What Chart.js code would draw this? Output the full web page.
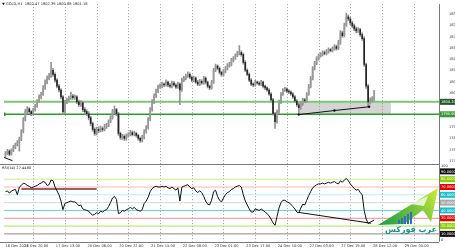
<!DOCTYPE html>
<html><head><meta charset="utf-8">
<script src="https://cdn.jsdelivr.net/npm/chart.js@4.4.1/dist/chart.umd.min.js"></script>
<style>html,body{margin:0;padding:0;background:#fff;overflow:hidden}canvas{display:block}</style>
</head><body>
<canvas id="c" width="455" height="250"></canvas>
<script>
// ---------- DATA ----------
const openP=[1781.8,1782.5,1783.2,1782.1,1783.5,1784.5,1785.5,1786.2,1787.3,1790.0,
1794.1,1796.8,1797.8,1796.8,1796.1,1797.5,1798.8,1800.5,1801.9,1802.9,
1805.0,1807.0,1808.4,1809.1,1811.1,1809.7,1807.7,1805.6,1804.3,1801.9,
1796.8,1800.2,1800.9,1801.6,1802.2,1801.6,1801.9,1800.2,1799.2,1799.9,
1797.5,1796.8,1796.1,1794.7,1792.7,1790.7,1789.3,1790.7,1790.3,1791.0,
1790.7,1791.7,1792.0,1793.4,1794.7,1796.8,1797.5,1796.1,1789.3,1787.9,
1788.3,1787.6,1788.6,1789.0,1789.6,1789.0,1789.3,1788.6,1787.6,1786.9,
1787.9,1790.0,1791.3,1794.1,1797.5,1800.2,1802.2,1803.9,1805.3,1805.6,
1806.3,1806.0,1807.0,1806.0,1805.6,1806.7,1806.0,1805.3,1806.3,1804.3,
1807.7,1808.4,1809.1,1809.7,1808.7,1807.7,1808.4,1807.0,1806.3,1807.3,
1806.7,1808.4,1807.0,1805.6,1805.0,1807.0,1811.1,1812.5,1811.8,1810.4,
1809.7,1810.8,1811.8,1812.8,1813.1,1814.5,1815.2,1816.2,1816.9,1817.2,
1816.5,1813.8,1811.1,1809.7,1807.7,1806.3,1806.0,1807.0,1806.7,1806.3,
1807.0,1805.6,1805.0,1804.3,1802.9,1800.9,1796.1,1793.4,1796.8,1800.2,
1802.9,1804.3,1804.6,1803.9,1803.6,1802.9,1801.9,1800.5,1799.2,1798.2,
1799.5,1800.9,1800.5,1802.9,1805.6,1808.4,1811.8,1813.5,1815.2,1816.2,
1816.5,1817.2,1816.9,1817.6,1818.2,1817.9,1818.6,1819.3,1818.6,1820.6,
1824.0,1823.0,1826.8,1829.5,1828.8,1827.4,1826.4,1825.4,1824.7,1825.1,
1823.4,1822.0,1813.1,1805.6,1800.2,1800.9,1801.2];
const highP=[1783.0,1783.8,1783.6,1784.0,1785.2,1786.0,1786.8,1788.0,1790.6,1794.8,
1797.6,1798.6,1798.2,1797.2,1798.0,1799.4,1801.0,1802.6,1803.5,1805.8,
1807.8,1809.2,1810.0,1813.8,1811.8,1810.2,1808.2,1806.2,1804.8,1802.4,
1800.8,1801.5,1802.2,1803.6,1802.8,1802.6,1802.4,1800.8,1800.6,1800.4,
1798.2,1797.4,1796.8,1795.2,1793.2,1791.2,1791.4,1791.6,1791.8,1791.6,
1792.4,1792.8,1794.0,1795.4,1797.6,1798.8,1798.0,1796.6,1789.8,1789.0,
1788.8,1789.2,1789.6,1790.4,1790.2,1790.0,1789.8,1789.0,1788.0,1788.6,
1790.6,1792.0,1794.8,1798.2,1801.0,1803.0,1804.6,1806.0,1806.4,1807.0,
1806.8,1807.8,1807.4,1806.6,1807.4,1807.2,1806.4,1807.0,1806.8,1808.4,
1809.0,1809.8,1810.6,1810.2,1809.2,1809.0,1808.8,1807.6,1808.0,1807.8,
1809.0,1808.8,1807.4,1806.0,1807.6,1811.8,1813.2,1813.0,1812.2,1810.8,
1811.4,1812.4,1813.4,1813.8,1815.2,1815.8,1816.8,1817.6,1819.6,1817.8,
1817.0,1814.4,1811.6,1810.2,1808.2,1806.8,1807.6,1807.4,1807.2,1807.6,
1807.4,1806.0,1805.4,1804.8,1803.4,1801.4,1796.6,1797.4,1800.8,1803.4,
1804.8,1805.2,1805.0,1804.4,1804.0,1803.4,1802.4,1801.0,1799.8,1800.0,
1801.4,1801.4,1803.4,1806.2,1809.0,1812.4,1814.2,1815.8,1816.8,1817.2,
1817.8,1817.8,1818.2,1818.8,1818.6,1819.2,1820.0,1819.8,1821.4,1824.8,
1824.6,1827.4,1830.8,1830.2,1829.4,1828.0,1827.0,1826.0,1825.8,1825.6,
1824.0,1822.6,1813.6,1806.2,1801.6,1802.0,1804.2];
const lowP=[1781.0,1782.0,1781.6,1781.8,1783.0,1784.0,1785.0,1783.2,1786.8,1789.5,
1793.6,1796.0,1796.2,1795.4,1795.6,1797.0,1798.3,1800.0,1801.2,1802.4,
1804.5,1806.4,1807.8,1808.6,1809.0,1807.0,1805.0,1803.6,1801.2,1795.8,
1796.2,1799.6,1800.4,1801.0,1801.0,1801.0,1799.6,1798.6,1798.6,1796.8,
1796.0,1795.4,1794.0,1792.0,1790.0,1788.6,1788.8,1789.6,1789.8,1790.0,
1790.2,1791.0,1791.6,1793.0,1794.2,1796.2,1795.4,1788.6,1787.2,1787.2,
1786.8,1787.0,1788.0,1788.4,1788.4,1788.4,1788.0,1787.0,1786.2,1786.4,
1787.4,1789.4,1790.8,1793.6,1797.0,1799.6,1801.6,1803.4,1804.8,1805.0,
1805.4,1805.6,1805.4,1805.0,1805.0,1805.6,1804.8,1804.8,1799.2,1803.8,
1807.2,1807.8,1808.6,1808.2,1807.2,1807.2,1806.6,1805.8,1805.8,1806.2,
1806.2,1806.4,1805.0,1804.4,1804.6,1806.6,1810.6,1811.2,1809.8,1809.0,
1809.2,1810.2,1811.2,1812.2,1812.6,1814.0,1814.8,1815.8,1816.4,1816.0,
1813.2,1810.6,1809.2,1807.2,1805.8,1805.4,1805.6,1806.2,1805.8,1805.8,
1805.0,1804.4,1803.8,1802.4,1800.4,1795.6,1791.0,1792.8,1796.2,1799.6,
1802.4,1803.8,1803.4,1803.0,1802.4,1801.4,1800.0,1798.6,1795.8,1797.6,
1799.0,1800.0,1800.0,1802.4,1805.0,1807.8,1811.2,1813.0,1814.6,1815.6,
1816.0,1816.4,1816.4,1817.0,1817.4,1817.4,1818.0,1818.0,1818.2,1820.0,
1822.4,1822.6,1826.2,1828.2,1826.8,1825.8,1824.8,1824.0,1824.2,1822.8,
1821.4,1812.4,1804.8,1798.4,1799.4,1800.2,1800.6];
const closeP=[1782.5,1783.2,1782.1,1783.5,1784.5,1785.5,1786.2,1787.3,1790.0,1794.1,
1796.8,1797.8,1796.8,1796.1,1797.5,1798.8,1800.5,1801.9,1802.9,1805.0,
1807.0,1808.4,1809.1,1811.1,1809.7,1807.7,1805.6,1804.3,1801.9,1796.8,
1800.2,1800.9,1801.6,1802.2,1801.6,1801.9,1800.2,1799.2,1799.9,1797.5,
1796.8,1796.1,1794.7,1792.7,1790.7,1789.3,1790.7,1790.3,1791.0,1790.7,
1791.7,1792.0,1793.4,1794.7,1796.8,1797.5,1796.1,1789.3,1787.9,1788.3,
1787.6,1788.6,1789.0,1789.6,1789.0,1789.3,1788.6,1787.6,1786.9,1787.9,
1790.0,1791.3,1794.1,1797.5,1800.2,1802.2,1803.9,1805.3,1805.6,1806.3,
1806.0,1807.0,1806.0,1805.6,1806.7,1806.0,1805.3,1806.3,1804.3,1807.7,
1808.4,1809.1,1809.7,1808.7,1807.7,1808.4,1807.0,1806.3,1807.3,1806.7,
1808.4,1807.0,1805.6,1805.0,1807.0,1811.1,1812.5,1811.8,1810.4,1809.7,
1810.8,1811.8,1812.8,1813.1,1814.5,1815.2,1816.2,1816.9,1817.2,1816.5,
1813.8,1811.1,1809.7,1807.7,1806.3,1806.0,1807.0,1806.7,1806.3,1807.0,
1805.6,1805.0,1804.3,1802.9,1800.9,1796.1,1793.4,1796.8,1800.2,1802.9,
1804.3,1804.6,1803.9,1803.6,1802.9,1801.9,1800.5,1799.2,1798.2,1799.5,
1800.9,1800.5,1802.9,1805.6,1808.4,1811.8,1813.5,1815.2,1816.2,1816.5,
1817.2,1816.9,1817.6,1818.2,1817.9,1818.6,1819.3,1818.6,1820.6,1824.0,
1823.0,1826.8,1829.5,1828.8,1827.4,1826.4,1825.4,1824.7,1825.1,1823.4,
1822.0,1813.1,1805.6,1800.2,1800.9,1801.2,1801.9];
const rsiVals=[64,65,62,65,66,67,60,70,72,75,
74,72,71,69,70,71,72,74,75,77,
76,72,73,79,78,70,65,60,52,41,
49,50,51,52,51,51,49,46,47,42,
41,40,39,36,34,35,37,36,39,38,
40,41,45,50,56,58,54,36,37,40,
39,41,42,44,42,44,41,40,39,41,
49,52,57,64,68,70,71,70,70,71,
70,71,69,68,70,68,66,69,52,70,
71,72,73,70,68,69,65,63,65,63,
58,52,48,47,53,64,66,58,53,51,
56,60,63,64,67,68,70,71,72,70,
60,52,47,42,38,38,42,41,40,42,
40,38,36,33,29,24,21,32,43,50,
53,53,51,50,48,45,42,38,37,43,
48,47,53,59,64,69,71,73,74,74,
75,74,75,76,75,76,77,75,74,78,
76,79,81,78,74,71,68,66,67,63,
60,40,29,23,25,26,28];

const symbolTitle='\u25BC GOLD,H1  1802.47 1802.39 1800.88 1801.18';
const rsiTitle='RSI(14) 27.4480';
const priceTicks=[1830.50,1826.60,1822.70,1818.80,1814.90,1811.00,1807.10,1803.20,1799.30,1795.40,1791.50,1787.60,1783.70,1779.80];
const firstLabel='16 Dec 2021';
const gridBars=[14,30,46,62,78,94,110,126,142,158,174,190,206];
const timeLabels=['16 Dec 20:00','17 Dec 13:00','20 Dec 06:00','20 Dec 22:00','21 Dec 15:00','22 Dec 08:00','23 Dec 01:00','23 Dec 17:00','24 Dec 10:00','27 Dec 03:00','27 Dec 19:00','28 Dec 12:00','29 Dec 05:00'];
const hLevels=[1800.2,1795.9];
const hLevelLabels=['1800.20','1795.90'];
const zoneBars=[148,194.5];
const zonePrices=[1795.9,1800.2];
const trendMain=[[148,1795.8],[166,1797.2],[183.5,1798.5]];
const trendOld=[[-0.75,1781.0],[3.5,1779.9]];
const rsiLevels=[90,80,70,60,50,40,30,20,10];
const rsiLineColors=[null,'#cdee8e','#f4b8b8','#b8eef1','#d9d9d9','#62d5df','#f08c8c','#a8e45e','#8a8a8a'];
const rsiBoxColors=['#111111','#8ccf00','#e00000','#19bfcc','#a8a8a8','#19bfcc','#e00000','#8ccf00','#111111'];
const rsiTrendHigh=[[8,67.5],[46,67.5]];
const rsiTrendLow=[[148,37.5],[184.5,23.6]];

// ---------- CHART ----------
const idx=closeP.map((_,i)=>i);
const bodyColors=idx.map(i=>closeP[i]>=openP[i]?'#9a9a9a':'#262626');
const FONT='DejaVu Sans';

const mt4={
 id:'mt4',
 beforeDatasetsDraw(chart){
  const {ctx,chartArea:a,scales:{x,y}}=chart;
  ctx.save();
  const zx1=x.getPixelForValue(zoneBars[0]),zx2=x.getPixelForValue(zoneBars[1]);
  const zy1=y.getPixelForValue(zonePrices[1]),zy2=y.getPixelForValue(zonePrices[0]);
  ctx.fillStyle='#d4d4d4';ctx.fillRect(zx1,zy1,zx2-zx1,zy2-zy1);
  ctx.strokeStyle='#9c9c9c';ctx.lineWidth=1;ctx.setLineDash([1,2]);
  gridBars.forEach(b=>{const px=Math.round(x.getPixelForValue(b))+0.5;ctx.beginPath();ctx.moveTo(px,a.top);ctx.lineTo(px,a.bottom);ctx.stroke();});
  ctx.setLineDash([]);
  ctx.restore();
 },
 afterDraw(chart){
  const {ctx,chartArea:a,scales:{x,y,yr}}=chart;
  ctx.save();
  ctx.strokeStyle='#7a7a7a';ctx.lineWidth=1;
  const sep=Math.round(y.bottom)+0.5;
  ctx.beginPath();ctx.moveTo(0,sep);ctx.lineTo(a.right,sep);ctx.stroke();
  ctx.beginPath();ctx.moveTo(0,Math.round(a.bottom)+0.5);ctx.lineTo(a.right,Math.round(a.bottom)+0.5);ctx.stroke();
  ctx.beginPath();ctx.moveTo(Math.round(a.right)+0.5,a.top);ctx.lineTo(Math.round(a.right)+0.5,a.bottom);ctx.stroke();
  ctx.font='3.6px '+FONT;ctx.textBaseline='middle';ctx.textAlign='left';
  const boxC=['#24582a','#3a9a3a'];
  hLevels.forEach((p,k)=>{const py=y.getPixelForValue(p);ctx.fillStyle=boxC[k];ctx.fillRect(a.right+1,py-3,15,6);ctx.fillStyle='#ffffff';ctx.fillText(hLevelLabels[k],a.right+2,py+0.2);});
  rsiLevels.forEach((v,k)=>{const py=yr.getPixelForValue(v);ctx.fillStyle=rsiBoxColors[k];ctx.fillRect(a.right+1,py-3,15,6);ctx.fillStyle='#ffffff';ctx.fillText(v.toFixed(4),a.right+2,py+0.2);});
  ctx.fillStyle='#333';
  ctx.fillText('100',a.right+2,yr.getPixelForValue(100)+2.5);
  ctx.fillText('0',a.right+2,yr.getPixelForValue(0)-2);
  ctx.fillStyle='#333';ctx.textAlign='left';
  ctx.fillText(firstLabel,x.getPixelForValue(0),a.bottom+4.2);
  ctx.textAlign='center';
  gridBars.forEach((b,k)=>{ctx.fillText(timeLabels[k],x.getPixelForValue(b)+3,a.bottom+4.2);});
  ctx.textAlign='left';ctx.fillStyle='#222';
  ctx.fillText(symbolTitle,2,4.5);
  ctx.fillText(rsiTitle,2,sep+4);
  // watermark logo (decoration)
  const gx=ctx.createLinearGradient(380,226,438,188);
  gx.addColorStop(0,'#1e9a4a');gx.addColorStop(0.6,'#7cc83c');gx.addColorStop(1,'#d6ea3a');
  ctx.fillStyle=gx;
  ctx.beginPath();ctx.moveTo(378,225);ctx.lineTo(438,188);ctx.lineTo(431,222);ctx.lineTo(423,210);ctx.lineTo(404,224);ctx.closePath();ctx.fill();
  ctx.fillStyle='rgba(255,255,255,0.75)';
  ctx.beginPath();ctx.moveTo(410,204);ctx.lineTo(428,196);ctx.lineTo(424,206);ctx.closePath();ctx.fill();
  ctx.fillStyle='#2f6fb5';
  [[398,4],[401,6],[404,8],[407,10],[410,12]].forEach(([bx,h])=>ctx.fillRect(bx,224-h,2,h));
  ctx.font='bold 8px '+FONT;ctx.textAlign='right';ctx.fillStyle='#1f8f8f';
  ctx.fillText('\u0639\u0631\u0628 \u0641\u0648\u0631\u0643\u0633',437,230);
  ctx.restore();
 }
};

const pts=arr=>arr.map(([px,py])=>({x:px,y:py}));
const rsiLevelSets=rsiLevels.map((v,k)=>rsiLineColors[k]?{type:'line',yAxisID:'yr',data:[{x:-0.75,y:v},{x:218.75,y:v}],borderColor:rsiLineColors[k],borderWidth:1,pointRadius:0,order:9}:null).filter(Boolean);

new Chart(document.getElementById('c'),{
 type:'bar',
 data:{datasets:[
  {type:'bar',data:idx.map(i=>({x:i,y:[lowP[i],highP[i]]})),backgroundColor:'#939393',barThickness:1,grouped:false,yAxisID:'y',order:5},
  {type:'bar',data:idx.map(i=>({x:i,y:[openP[i],closeP[i]]})),backgroundColor:bodyColors,barThickness:1,grouped:false,yAxisID:'y',order:4},
  {type:'line',yAxisID:'y',data:[{x:-0.75,y:hLevels[0]},{x:218.75,y:hLevels[0]}],borderColor:'#79c879',borderWidth:2,pointRadius:0,order:6},
  {type:'line',yAxisID:'y',data:[{x:-0.75,y:hLevels[1]},{x:218.75,y:hLevels[1]}],borderColor:'#2f9a2f',borderWidth:1.5,pointRadius:[2,0],pointBackgroundColor:'#2f9a2f',pointBorderWidth:0,order:6},
  {type:'line',yAxisID:'y',data:pts(trendMain),borderColor:'#111',borderWidth:1,pointRadius:1.2,pointBackgroundColor:'#111',pointBorderWidth:0,order:3},
  {type:'line',yAxisID:'y',data:pts(trendOld),borderColor:'#111',borderWidth:1,pointRadius:0,order:3},
  ...rsiLevelSets,
  {type:'line',yAxisID:'yr',data:pts(rsiTrendHigh),borderColor:'#7a3030',borderWidth:1.5,pointRadius:0,order:3},
  {type:'line',yAxisID:'yr',data:pts(rsiTrendLow),borderColor:'#111',borderWidth:1,pointRadius:0,order:3},
  {type:'line',yAxisID:'yr',data:idx.map(i=>({x:i,y:rsiVals[i]})),borderColor:'#111',borderWidth:1,pointRadius:0,tension:0,order:2}
 ]},
 options:{
  responsive:false,animation:false,devicePixelRatio:1,
  layout:{padding:{top:1,left:0,right:0,bottom:0}},
  plugins:{legend:{display:false},tooltip:{enabled:false}},
  scales:{
   x:{type:'linear',min:-0.75,max:218.75,offset:false,grid:{display:false},border:{display:false},ticks:{display:false},afterFit(s){s.height=8.3;}},
   y:{type:'linear',position:'right',stack:'v',stackWeight:2.04,min:1778.9,max:1833.91,grid:{display:false},border:{display:false},
      afterBuildTicks(s){s.ticks=priceTicks.map(v=>({value:v}));},
      ticks:{autoSkip:false,font:{size:3.6,family:FONT},color:'#333',padding:2,callback:v=>Number(v).toFixed(2)},
      afterFit(s){s.width=16;}},
   yr:{type:'linear',position:'right',stack:'v',stackWeight:1,min:0,max:100,grid:{display:false},border:{display:false},ticks:{display:false},afterFit(s){s.width=16;}}
  }
 },
 plugins:[mt4]
});
</script>
</body></html>
